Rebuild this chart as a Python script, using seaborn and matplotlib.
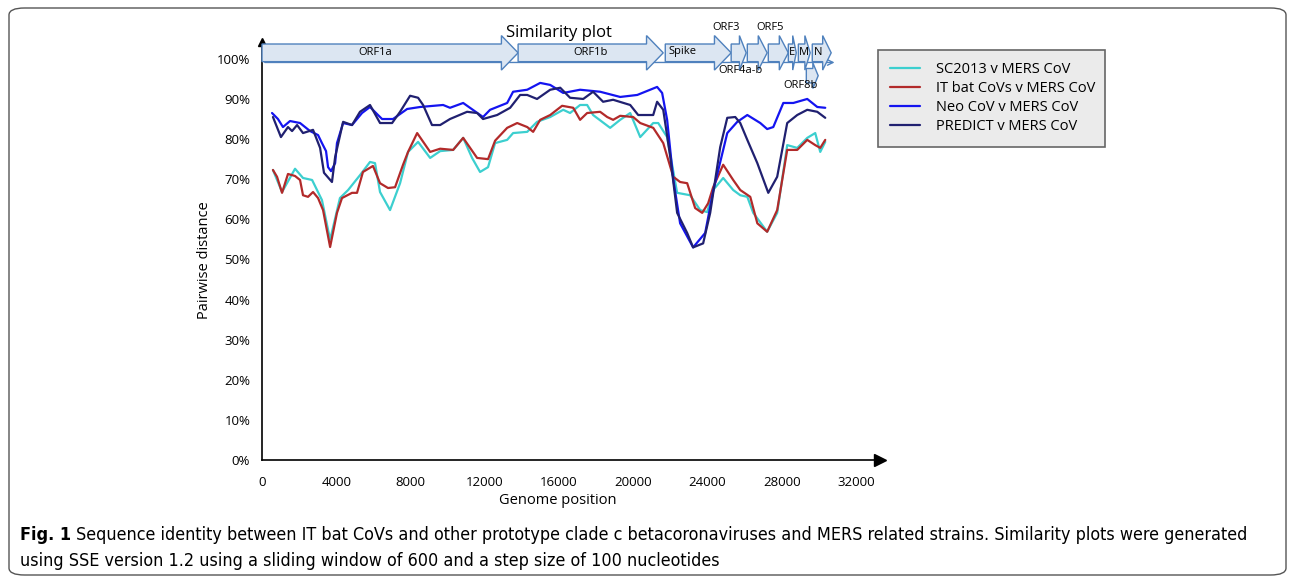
import numpy as np
import pandas as pd
import matplotlib
matplotlib.use("Agg")
import matplotlib.pyplot as plt
from matplotlib.patches import Polygon, FancyBboxPatch
from matplotlib.ticker import FuncFormatter
import seaborn as sns

# values (genome position, % identity)
neo_pos = [540, 860, 1130, 1510, 2050, 2590, 3020, 3230, 3450, 3560, 3720, 3940, 4040, 4370, 4850, 5390, 5820,
           6250, 6470, 7060, 7820, 8520, 9760, 10130, 10840, 11910, 12290, 13210, 13530, 14290, 14990, 15530,
           16230, 17140, 18220, 19300, 20220, 21290, 21560, 21830, 22160, 22530, 23230, 23880, 24310, 25070,
           25610, 26150, 26850, 27220, 27550, 28090, 28630, 29380, 29920, 30350]
neo_val = [86.5, 85, 83, 84.5, 84, 82, 81, 79, 77, 73, 72, 74, 79, 84, 83.5, 86.5, 88,
           86, 85, 85, 87.5, 88, 88.5, 87.8, 89, 85.5, 87.3, 89, 91.8, 92.3, 94, 93.5,
           91.5, 92.3, 91.8, 90.5, 91, 93, 91.5, 84.8, 70, 59, 53, 56.6, 67, 81.5,
           84.3, 86, 84, 82.5, 83, 89, 89, 90, 88, 87.8]

predict_pos = [590, 1020, 1400, 1620, 1890, 2210, 2750, 3130, 3340, 3770, 3940, 4370, 4850, 5280, 5820, 6360,
               7010, 7440, 7980, 8410, 8680, 9160, 9600, 10130, 11050, 11590, 11910, 12670, 13370, 13910, 14290,
               14820, 15530, 16070, 16600, 17310, 17840, 18380, 18920, 19840, 20270, 21080, 21290, 21620, 22000,
               22370, 22910, 23230, 23770, 24150, 24690, 25070, 25500, 25770, 26150, 26690, 27280, 27760, 28300,
               28840, 29380, 29920, 30350]
predict_val = [85.5, 80.5, 83, 82, 83.5, 81.5, 82.3, 77.8, 71.6, 69.3, 75.5, 84.3, 83.5, 86.8, 88.5, 84,
               84, 86.8, 90.8, 90.3, 88.5, 83.5, 83.5, 85, 86.8, 86.5, 85, 86, 87.8, 91, 91,
               90, 92.3, 92.8, 90.3, 90, 91.8, 89.3, 89.8, 88.5, 86, 86, 89.3, 87.3, 75.5,
               61.6, 56.6, 53, 54, 61.6, 78, 85.3, 85.5, 84, 79.8, 74, 66.6, 70.6, 84,
               86, 87.3, 86.8, 85.3]

sc2013_pos = [590, 1080, 1780, 2210, 2700, 3230, 3670, 4200, 4640, 5280, 5820, 6090, 6360, 6900, 7440, 7870,
              8410, 9060, 9600, 10300, 10840, 11320, 11750, 12180, 12560, 13210, 13530, 14290, 14820, 15530,
              16230, 16600, 17140, 17520, 17840, 18760, 19300, 19840, 20380, 21080, 21350, 21830, 22370, 23070,
              23610, 23990, 24310, 24850, 25390, 25770, 26150, 26470, 27220, 27760, 28300, 28840, 29380, 29810,
              30080, 30350]
sc2013_val = [72.3, 66.8, 72.6, 70.3, 69.8, 64.8, 54.9, 65.3, 67.3, 71, 74.3, 74, 66.8, 62.3, 69, 76.8,
              79.3, 75.3, 77, 77.3, 80.3, 75.3, 71.8, 73, 79, 79.8, 81.5, 81.8, 84.3, 85.5,
              87.3, 86.5, 88.5, 88.5, 86, 82.8, 84.8, 86.5, 80.5, 84, 84, 80.5, 66.6, 66,
              62.3, 61.8, 67.3, 70.3, 67.3, 66, 65.6, 61.6, 56.9, 61.6, 78.5, 77.8, 80.3, 81.5,
              76.8, 79.3]

itbat_pos = [590, 810, 1080, 1400, 1780, 2050, 2210, 2480, 2750, 3020, 3290, 3670, 4040, 4310, 4850, 5120,
             5440, 5980, 6360, 6790, 7170, 7600, 7870, 8360, 9060, 9600, 10300, 10840, 11590, 12180, 12560,
             13210, 13750, 14290, 14610, 14990, 15530, 16170, 16770, 17140, 17520, 18220, 18600, 18920, 19300,
             20000, 20380, 21080, 21620, 22160, 22530, 22910, 23340, 23720, 24040, 24310, 24850, 25390, 25770,
             26310, 26690, 27220, 27760, 28300, 28840, 29380, 29810, 30080, 30350]
itbat_val = [72.3, 70.6, 66.6, 71.3, 70.8, 69.8, 66, 65.6, 66.8, 65.3, 62.3, 53.1, 61.6, 65.3, 66.6, 66.6,
             71.8, 73.3, 69, 67.8, 68, 73.6, 76.8, 81.5, 76.8, 77.6, 77.3, 80.3, 75.3, 75, 79.6,
             82.8, 84, 83, 81.8, 84.8, 86, 88.3, 87.8, 84.8, 86.5, 86.8, 85.5, 84.8, 85.8,
             85.5, 84, 82.8, 79, 70.6, 69.3, 69, 62.8, 61.6, 64, 68, 73.6, 69.8, 67.3,
             65.6, 59, 56.9, 62.3, 77.3, 77.3, 79.8, 78.5, 77.8, 79.8]

series_names = ["SC2013 v MERS CoV", "IT bat CoVs v MERS CoV", "Neo CoV v MERS CoV", "PREDICT v MERS CoV"]
series_colors = ["#3CCFCF", "#B22A2A", "#1414F0", "#202070"]

# genome map
gene_names = ["ORF1a", "ORF1b", "Spike", "ORF3", "ORF4a-b", "ORF5", "E", "M", "N", "ORF8b"]
gene_start = [0, 13800, 21730, 25280, 26150, 27280, 28360, 28900, 29650, 29330]
gene_end = [13800, 21620, 25280, 26090, 27220, 28360, 28790, 29540, 30670, 29970]

caption_bold = "Fig. 1"
caption_1 = ("Sequence identity between IT bat CoVs and other prototype clade c betacoronaviruses and MERS "
             "related strains. Similarity plots were generated")
caption_2 = "using SSE version 1.2 using a sliding window of 600 and a step size of 100 nucleotides"

frames = []
for name, p, v in zip(series_names,
                      [sc2013_pos, itbat_pos, neo_pos, predict_pos],
                      [sc2013_val, itbat_val, neo_val, predict_val]):
    frames.append(pd.DataFrame({"pos": p, "identity": v, "series": name}))
df = pd.concat(frames, ignore_index=True)

sns.set_style("white")
plt.rcParams["font.family"] = ["Open Sans", "DejaVu Sans"]
plt.rcParams.update({"text.color": "black", "axes.labelcolor": "black",
                     "xtick.color": "black", "ytick.color": "black"})

W, H = 1295, 582
fig = plt.figure(figsize=(W / 100, H / 100), dpi=100)
ax = fig.add_axes([262 / W, 1 - 460 / H, (880 - 262) / W, (460 - 42) / H])

sns.lineplot(data=df, x="pos", y="identity", hue="series", hue_order=series_names,
             palette=series_colors, estimator=None, sort=False, linewidth=1.6, ax=ax, legend=True)

ax.set_xlim(0, 33300)
ax.set_ylim(0, 104.2)
ax.set_xticks(np.arange(0, 32001, 4000))
ax.set_xticks(np.arange(0, 32501, 500), minor=True)
ax.set_yticks(np.arange(0, 101, 10))
ax.set_yticks(np.arange(0, 101, 2), minor=True)
ax.yaxis.set_major_formatter(FuncFormatter(lambda v, _: f"{int(v)}%"))
ax.tick_params(axis="both", which="both", labelsize=9.5, width=0.8)
ax.tick_params(axis="x", which="minor", direction="in", length=4)
ax.tick_params(axis="x", which="major", direction="inout", length=7, pad=8)
ax.tick_params(axis="y", which="major", direction="out", length=5)
ax.tick_params(axis="y", which="minor", direction="out", length=3)
for s in ["top", "right"]:
    ax.spines[s].set_visible(False)
for s in ["left", "bottom"]:
    ax.spines[s].set_color("black")
    ax.spines[s].set_linewidth(1.2)
ax.plot([1], [0], marker=">", color="black", markersize=8, transform=ax.transAxes, clip_on=False)
ax.plot([0], [1], marker="^", color="black", markersize=6, transform=ax.transAxes, clip_on=False)
ax.set_xlabel("")
ax.set_ylabel("")
fig.text(558 / W, 1 - 501 / H, "Genome position", ha="center", va="center", fontsize=10.5)
fig.text(205 / W, 1 - 260 / H, "Pairwise distance", ha="center", va="center", rotation=90, fontsize=10.5)

# genome arrows
arrow_face = "#DCE6F2"
arrow_edge = "#4F81BD"
for name, g0, g1 in zip(gene_names, gene_start, gene_end):
    head = min(900, 0.45 * (g1 - g0))
    if name == "ORF8b":
        yc, bh, hh = 95.8, 1.8, 3.2
    else:
        yc, bh, hh = 101.5, 2.2, 4.3
    pts = [(g0, yc - bh), (g1 - head, yc - bh), (g1 - head, yc - hh), (g1, yc),
           (g1 - head, yc + hh), (g1 - head, yc + bh), (g0, yc + bh)]
    ax.add_patch(Polygon(pts, closed=True, facecolor=arrow_face, edgecolor=arrow_edge,
                         linewidth=1.0, clip_on=False, zorder=4 if name != "ORF8b" else 3))
ax.annotate("", xy=(31000, 99.1), xytext=(0, 99.1),
            arrowprops=dict(arrowstyle="->", color=arrow_edge, lw=1.0), annotation_clip=False, zorder=2)

label_fs = 8
ax.text(6090, 101.5, "ORF1a", ha="center", va="center", fontsize=label_fs, zorder=6)
ax.text(17680, 101.5, "ORF1b", ha="center", va="center", fontsize=label_fs, zorder=6)
ax.text(21900, 101.9, "Spike", ha="left", va="center", fontsize=label_fs, zorder=6)
ax.text(25010, 107.7, "ORF3", ha="center", va="center", fontsize=label_fs, zorder=6)
ax.text(27390, 107.7, "ORF5", ha="center", va="center", fontsize=label_fs, zorder=6)
ax.text(25770, 97.0, "ORF4a-b", ha="center", va="center", fontsize=label_fs, zorder=6)
ax.text(28560, 101.6, "E", ha="center", va="center", fontsize=label_fs, zorder=6)
ax.text(29200, 101.6, "M", ha="center", va="center", fontsize=label_fs, zorder=6)
ax.text(29950, 101.6, "N", ha="center", va="center", fontsize=label_fs, zorder=6)
ax.text(29000, 93.4, "ORF8b", ha="center", va="center", fontsize=label_fs, zorder=6)

fig.text(559 / W, 1 - 33 / H, "Similarity plot", ha="center", va="center", fontsize=12)

# legend box, top edge at y=50 px
leg = ax.legend(loc="upper left", bbox_to_anchor=(878 / W, 1 - 50 / H - 0.01, (1105 - 878) / W, 0.01),
                bbox_transform=fig.transFigure, mode="expand", borderaxespad=0, fontsize=10.5,
                frameon=True, fancybox=False, handlelength=2.0, labelspacing=0.27, borderpad=0.85,
                handletextpad=1.1)
leg.get_frame().set_facecolor("#EBEBEB")
leg.get_frame().set_edgecolor("#666666")
leg.get_frame().set_linewidth(1.2)
leg.get_frame().set_alpha(1)
for line in leg.get_lines():
    line.set_linewidth(1.6)

# caption, sized so the first line runs from x=20 to x=1250 like the original
cap_kw = dict(family="DejaVu Sans", fontstretch="condensed", va="center", ha="left")
fs = 13
renderer = fig.canvas.get_renderer()
t0 = fig.text(20 / W, 1 - 535 / H, caption_bold, fontsize=fs, fontweight="bold", **cap_kw)
t1 = fig.text(0, 1 - 535 / H, caption_1, fontsize=fs, **cap_kw)
t2 = fig.text(20 / W, 1 - 561 / H, caption_2, fontsize=fs, **cap_kw)
w0 = t0.get_window_extent(renderer).width
w1 = t1.get_window_extent(renderer).width
gap = 0.35 * fs
scale = (1250 - 20) / (w0 + gap + w1)
fs = fs * scale
for t in (t0, t1, t2):
    t.set_fontsize(fs)
w0 = t0.get_window_extent(renderer).width
t1.set_x((20 + w0 + 0.35 * fs) / W)

fig.patches.append(FancyBboxPatch((9 / W, 7 / H), 1277 / W, 567 / H,
                                  boxstyle="round,pad=0,rounding_size=0.012", transform=fig.transFigure,
                                  facecolor="none", edgecolor="#555555", linewidth=1.0))

fig.savefig("out.png", dpi=100)
